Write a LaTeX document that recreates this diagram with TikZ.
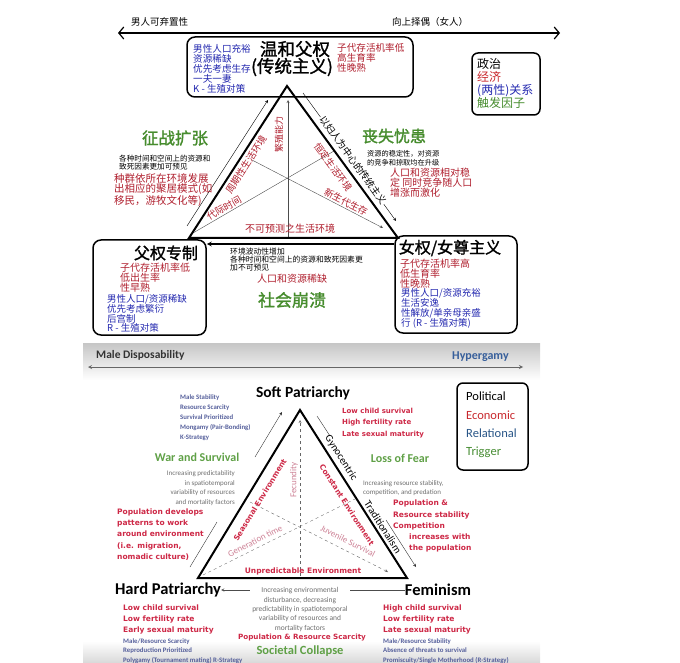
\documentclass[tikz,border=0pt]{standalone}
\usepackage{fontspec}
\setmainfont{Carlito}
\newfontfamily\cjk{Noto Sans CJK SC}
\newfontfamily\cjkb[FakeBold=1.5]{Noto Sans CJK SC}
\newfontfamily\dvb{DejaVu Sans}
\usetikzlibrary{positioning,arrows,arrows.meta,calc}
\definecolor{cnred}{RGB}{175,30,45}
\definecolor{cnblue}{RGB}{35,40,175}
\definecolor{cngreen}{RGB}{70,140,45}
\definecolor{enred}{RGB}{205,40,70}
\definecolor{enblue}{RGB}{85,95,155}
\definecolor{engreen}{RGB}{95,160,70}
\definecolor{engray}{RGB}{110,110,110}
\definecolor{enpink}{RGB}{205,130,150}
\definecolor{hyblue}{RGB}{55,95,155}
\definecolor{legred}{RGB}{200,40,45}
\definecolor{legblue}{RGB}{40,85,135}
\definecolor{leggreen}{RGB}{70,140,50}
\newcommand{\fsz}[2]{\fontsize{#1}{#2}\selectfont}
\tikzstyle{statebox}=[rectangle, rounded corners=8pt, draw=black, line width=1.5pt, inner sep=0pt]
\tikzstyle{legbox}=[rectangle, rounded corners=6pt, draw=black, line width=1.5pt, inner sep=0pt]
\tikzstyle{txt}=[inner sep=0pt, align=left, anchor=north west]
\tikzstyle{lbl}=[inner sep=0pt]
\tikzstyle{tri}=[line width=2pt]
\tikzstyle{sline}=[-, thin, black!70]
\tikzstyle{aline}=[->, >=stealth, thin, black!70]
\tikzstyle{dline}=[-, dashed, thin, black!60]
\tikzstyle{daline}=[->, >=stealth, dashed, thin, black!60]
\tikzstyle{axis}=[{Straight Barb[length=5pt,width=12pt]}-{Straight Barb[length=5pt,width=12pt]}, line width=1.2pt]
\tikzstyle{enaxis}=[<->, >=stealth, line width=0.8pt, black!60]

\begin{document}
\begin{tikzpicture}[x=1pt, y=-1pt]
\useasboundingbox (0,0) rectangle (680,663);

%%% top half (chinese)
	\node (mandispcn) [lbl, anchor=west, font=\cjk\fsz{9.5}{10}] at (131,22) {男人可弃置性};
	\node (hypercn) [lbl, anchor=west, font=\cjk\fsz{9.5}{10}] at (392,22) {向上择偶（女人）};
	\coordinate (axcnl) at (118,33);
	\coordinate (axcnr) at (560,33);
	\draw[axis] (axcnl) -- (axcnr);

	\node (softcn) [statebox, fill=white, minimum width=226, minimum height=60] at (300,67) {};
	\node (softcnt) [lbl, font=\cjkb\fsz{17.5}{18}] at (295,49) {温和父权};
	\node (softcnt2) [lbl, font=\cjkb\fsz{17.5}{18}] at (292,67) {(传统主义)};
	\node (softcnb) [txt, text=cnblue, font=\cjk\fsz{9.6}{9.8}] at (193,44.7) {男性人口充裕\\资源稀缺\\优先考虑生存\\一夫一妻\\K - 生殖对策};
	\node (softcnr) [txt, text=cnred, font=\cjk\fsz{9.6}{10}] at (337,42.7) {子代存活机率低\\高生育率\\性晚熟};

	\node (legcn) [legbox, minimum width=68, minimum height=62] at (506,84) {};
	\node (legcnt) [txt, font=\cjk\fsz{12}{13}] at (477,58.6) {政治\\\textcolor{legred}{经济}\\\textcolor{cnblue}{(两性)关系}\\\textcolor{cngreen}{触发因子}};

% triangle
	\coordinate (cnA) at (287,86);
	\coordinate (cnL) at (189,238);
	\coordinate (cnR) at (398,238);
	\coordinate (cnvb) at (288,237);
	\coordinate (cnvt) at (288,100);
	\coordinate (cnla) at (193,233);
	\coordinate (cnra) at (334,151);
	\coordinate (cnlb) at (252,160);
	\coordinate (cnrb) at (383,228);
	\draw[aline] (cnvb) -- (cnvt);
	\draw[sline] (cnla) -- (cnra);
	\draw[aline] (cnlb) -- (cnrb);
	\draw[tri] (cnA) -- (cnL) -- (cnR) -- cycle;
	\node (cnseas) [lbl, rotate=57.2, text=cnred, font=\cjk\fsz{9.5}{10}] at (246,165) {周期性生活环境};
	\node (cnfec) [lbl, rotate=90, text=cnred, font=\cjk\fsz{9}{10}] at (279,135) {繁殖能力};
	\node (cngen) [lbl, rotate=30, text=cnred, font=\cjk\fsz{9.5}{10}] at (224,208) {代际时间};
	\node (cnconst) [lbl, rotate=-53.9, text=cnred, font=\cjk\fsz{9.5}{10}] at (333,167) {恒定生活环境};
	\node (cnjuv) [lbl, rotate=-27.4, text=cnred, font=\cjk\fsz{9.5}{10}] at (346,202) {新生代生存};
	\node (cnunp) [lbl, text=cnred, font=\cjk\fsz{10}{10}] at (290,229) {不可预测之生活环境};

% outside arrows
	\coordinate (cnlo1) at (187,226);
	\coordinate (cnlo2) at (268,100);
	\draw[aline, black] (cnlo1) -- (cnlo2);
	\coordinate (cnro1) at (303,93);
	\coordinate (cnro2) at (396,221);
	\draw[aline, black] (cnro1) -- (cnro2);
	\node (cngyn) [lbl, rotate=-53.9, fill=white, inner sep=1pt, font=\cjk\fsz{9.6}{10}] at (353,160) {以妇人为中心的传统主义};

	\node (cnwar) [lbl, text=cngreen, font=\cjkb\fsz{16.5}{17}] at (175,138) {征战扩张};
	\node (cnwarg) [txt, font=\cjk\fsz{7.6}{8}] at (119,154.6) {各种时间和空间上的资源和\\致死因素更加可预见};
	\node (cnwarr) [txt, text=cnred, font=\cjk\fsz{10.5}{10.5}] at (114,173.3) {种群依所在环境发展\\出相应的聚居模式(如\\移民，游牧文化等)};

	\node (cnfear) [lbl, text=cngreen, font=\cjkb\fsz{16}{17}] at (394,136) {丧失忧患};
	\node (cnfearg) [txt, font=\cjk\fsz{7.2}{9}] at (367,149.8) {资源的稳定性，对资源\\的竞争和掠取均在升级};
	\node (cnfearr) [txt, text=cnred, font=\cjk\fsz{10}{10}] at (390,167.5) {人口和资源相对稳\\定 同时竞争随人口\\增涨而激化};

% bottom boxes
	\node (hardcn) [statebox, minimum width=113, minimum height=95] at (149.5,287.5) {};
	\node (hardcnt) [lbl, font=\cjkb\fsz{16}{16}] at (166,253) {父权专制};
	\node (hardcnr) [txt, text=cnred, font=\cjk\fsz{10}{10}] at (120,263) {子代存活机率低\\低出生率\\性早熟};
	\node (hardcnb) [txt, text=cnblue, font=\cjk\fsz{9.5}{9.6}] at (107,293.8) {男性人口/资源稀缺\\优先考虑繁衍\\后宫制\\R - 生殖对策};

	\node (femcn) [statebox, minimum width=122, minimum height=97] at (456,284.5) {};
	\node (femcnt) [lbl, font=\cjkb\fsz{16}{16}] at (450,248) {女权/女尊主义};
	\node (femcnr) [txt, text=cnred, font=\cjk\fsz{10}{10}] at (400,258.5) {子代存活机率高\\低生育率\\性晚熟};
	\node (femcnb) [txt, text=cnblue, font=\cjk\fsz{9.5}{10}] at (401,288.7) {男性人口/资源充裕\\生活安逸\\性解放/单亲母亲盛\\行 (R - 生殖对策)};

	\coordinate (cnlow) at (300,244);
	\draw[->, >=stealth, line width=1.2pt] (femcn.west |- cnlow) -- (hardcn.east |- cnlow);
	\node (cncollg) [txt, font=\cjk\fsz{7.8}{8}] at (230,247.5) {环境波动性增加\\各种时间和空间上的资源和致死因素更\\加不可预见};
	\node (cncollr) [lbl, text=cnred, font=\cjk\fsz{10}{10}] at (292,279) {人口和资源稀缺};
	\node (cncoll) [lbl, text=cngreen, font=\cjkb\fsz{17}{17}] at (292,300) {社会崩溃};

%%% bottom half (english)
	\shade[top color=gray!45, bottom color=white] (83,343) rectangle (540,380);
	\shade[top color=white, bottom color=gray!30] (83,641) rectangle (540,663);
	\node (mandisp) [lbl, anchor=west, text=black!80, font=\bfseries\fsz{11.5}{12}] at (96,355) {Male Disposability};
	\node (hyperg) [lbl, anchor=west, text=hyblue, font=\bfseries\fsz{12}{12}] at (452,357) {Hypergamy};
	\coordinate (axenl) at (88,367);
	\coordinate (axenr) at (523,367);
	\draw[enaxis] (axenl) -- (axenr);

	\node (soften) [lbl, font=\bfseries\fsz{15.5}{16}] at (303,393) {Soft Patriarchy};
	\node (softenb) [txt, text=enblue, font=\bfseries\fsz{6.8}{10}] at (180,394.3) {Male Stability\\Resource Scarcity\\Survival Prioritized\\Mongamy (Pair-Bonding)\\K-Strategy};
	\node (softenr) [txt, text=enred, font=\dvb\bfseries\fsz{7}{11.3}] at (342,408) {Low child survival\\High fertility rate\\Late sexual maturity};

	\node (legen) [legbox, minimum width=71, minimum height=87] at (492.5,426.5) {};
	\node (legent) [txt, font=\fsz{12.5}{18.3}] at (466,392) {Political\\\textcolor{legred}{Economic}\\\textcolor{legblue}{Relational}\\\textcolor{leggreen}{Trigger}};

% triangle
	\coordinate (enA) at (300,410);
	\coordinate (enL) at (198,578);
	\coordinate (enR) at (407,578);
	\coordinate (envb) at (300,576);
	\coordinate (envt) at (300,420);
	\coordinate (enla) at (203,575);
	\coordinate (enra) at (355,499);
	\coordinate (enlb) at (250,502);
	\coordinate (enrb) at (388,572);
	\draw[daline] (envb) -- (envt);
	\draw[dline] (enla) -- (enra);
	\draw[daline] (enlb) -- (enrb);
	\draw[tri] (enA) -- (enL) -- (enR) -- cycle;
	\node (enseas) [lbl, rotate=58.7, text=enred, font=\dvb\bfseries\fsz{7.5}{8}] at (260,500) {Seasonal Environment};
	\node (enfec) [lbl, rotate=90, text=enpink, font=\fsz{9}{9}] at (294,480) {Fecundity};
	\node (engen) [lbl, rotate=27, text=enpink, font=\fsz{9}{9}] at (255,541) {Generation time};
	\node (enconst) [lbl, rotate=-57.5, text=enred, font=\dvb\bfseries\fsz{7.5}{8}] at (347,505) {Constant Environment};
	\node (enjuv) [lbl, rotate=-27, text=enpink, font=\fsz{9}{9}] at (348,541) {Juvenile Survival};
	\node (enunp) [lbl, text=enred, font=\dvb\bfseries\fsz{7.5}{8}] at (303,571) {Unpredictable Environment};

% outside arrows
	\coordinate (enlo1) at (190,567);
	\coordinate (enlo2) at (217,522);
	\coordinate (enlo3) at (255,457);
	\coordinate (enlo4) at (282,412);
	\draw[sline, black!80] (enlo1) -- (enlo2);
	\draw[aline, black!80] (enlo3) -- (enlo4);
	\coordinate (enro1) at (317,416);
	\coordinate (enro2) at (330,436);
	\coordinate (enro3) at (386,520);
	\coordinate (enro4) at (416,567);
	\draw[sline, black!80] (enro1) -- (enro2);
	\draw[aline, black!80] (enro3) -- (enro4);
	\node (engyn) [lbl, rotate=-57.5, font=\fsz{10.5}{11}] at (341,458) {Gynocentric};
	\node (entrad) [lbl, rotate=-57.5, font=\fsz{10.5}{11}] at (383,527) {Traditionalism};

	\node (enwar) [lbl, text=engreen, font=\bfseries\fsz{12}{12}] at (197,457) {War and Survival};
	\node (enwarg) [inner sep=0pt, align=right, anchor=north east, text=engray, font=\fsz{7}{9.8}] at (235,470.2) {Increasing predictability\\in spatiotemporal\\variability of resources\\and mortality factors};
	\node (enwarr) [txt, text=enred, font=\dvb\bfseries\fsz{7.5}{11.2}] at (117,508.6) {Population develops\\patterns to work\\around environment\\(i.e. migration,\\nomadic culture)};

	\node (enfear) [lbl, text=engreen, font=\bfseries\fsz{12}{12}] at (400,458) {Loss of Fear};
	\node (enfearg) [txt, text=engray, font=\fsz{7}{9}] at (363,480.2) {Increasing resource stability,\\competition, and predation};
	\node (enfearr) [txt, text=enred, font=\dvb\bfseries\fsz{7.5}{11.2}] at (393,500) {Population \&\\Resource stability\\Competition\\\hspace*{16pt}increases with\\\hspace*{16pt}the population};

% bottom
	\node (hardpat) [lbl, font=\bfseries\fsz{16.5}{17}] at (168,590) {Hard Patriarchy};
	\node (feminism) [lbl, font=\bfseries\fsz{16.5}{17}] at (438,590) {Feminism};
	\draw[<-, >=stealth, thin, black!70] (hardpat.east) -- (feminism.west);
	\node (enscarg) [lbl, fill=white, inner sep=2pt, align=center, text=engray, font=\fsz{7.5}{9.3}] at (300,609.5) {Increasing environmental\\disturbance, decreasing\\predictability in spatiotemporal\\variability of resources and\\mortality factors};
	\node (enscarr) [lbl, text=enred, font=\dvb\bfseries\fsz{7.2}{8}] at (302,638) {Population \& Resource Scarcity};
	\node (encoll) [lbl, text=engreen, font=\bfseries\fsz{12.5}{13}] at (300,651) {Societal Collapse};

	\node (hardr) [txt, text=enred, font=\dvb\bfseries\fsz{7.5}{11}] at (123,604.6) {Low child survival\\Low fertility rate\\Early sexual maturity};
	\node (hardb) [txt, text=enblue, font=\bfseries\fsz{6.8}{9.6}] at (123,638.3) {Male/Resource Scarcity\\Reproduction Prioritized\\Polygamy (Tournament mating) R-Strategy};
	\node (femr) [txt, text=enred, font=\dvb\bfseries\fsz{7.5}{11}] at (383,604.6) {High child survival\\Low fertility rate\\Late sexual maturity};
	\node (femb) [txt, text=enblue, font=\bfseries\fsz{6.8}{9.6}] at (383,638.3) {Male/Resource Stability\\Absence of threats to survival\\Promiscuity/Single Motherhood (R-Strategy)};

\end{tikzpicture}
\end{document}
